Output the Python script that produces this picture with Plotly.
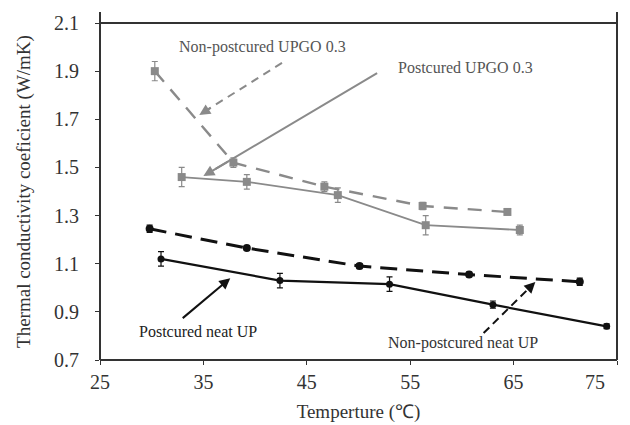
import plotly.graph_objects as go

# Data
np_upgo_x = [30.3, 37.9, 46.7, 56.2, 64.4]
np_upgo_y = [1.90, 1.52, 1.42, 1.34, 1.315]
np_upgo_err = [0.04, 0.02, 0.02, 0.015, 0.01]

pc_upgo_x = [32.9, 39.2, 48.0, 56.5, 65.6]
pc_upgo_y = [1.46, 1.44, 1.385, 1.26, 1.24]
pc_upgo_err = [0.04, 0.03, 0.03, 0.04, 0.02]

np_up_x = [29.8, 39.2, 50.1, 60.7, 71.4]
np_up_y = [1.245, 1.165, 1.09, 1.055, 1.025]
np_up_err = [0.015, 0.01, 0.01, 0.01, 0.015]

pc_up_x = [30.9, 42.4, 53.0, 63.0, 74.0]
pc_up_y = [1.12, 1.03, 1.015, 0.93, 0.84]
pc_up_err = [0.03, 0.03, 0.03, 0.015, 0.01]

x_ticks = [25, 35, 45, 55, 65, 75]
y_ticks = [0.7, 0.9, 1.1, 1.3, 1.5, 1.7, 1.9, 2.1]

GRAY = "#8a8a8a"
BLACK = "#111111"
FONT = "Liberation Serif"

fig = go.Figure()

def add_series(x, y, err, color, dash, symbol, size, width):
    fig.add_trace(go.Scatter(
        x=x, y=y, mode="lines+markers",
        line=dict(color=color, dash=dash, width=width),
        marker=dict(color=color, symbol=symbol, size=size),
        error_y=dict(type="data", array=err, color=color, thickness=1.2, width=3),
        showlegend=False, cliponaxis=False,
    ))

add_series(np_upgo_x, np_upgo_y, np_upgo_err, GRAY, "14px,10px", "square", 8, 2.4)
add_series(pc_upgo_x, pc_upgo_y, pc_upgo_err, GRAY, "solid", "square", 8, 1.8)
add_series(np_up_x, np_up_y, np_up_err, BLACK, "17px,9px", "circle", 8, 3)
add_series(pc_up_x, pc_up_y, pc_up_err, BLACK, "solid", "circle", 7, 2.2)

shapes = []
# frame lines
shapes.append(dict(type="line", xref="paper", yref="paper", x0=0, x1=0, y0=0, y1=1.033,
                   line=dict(color="#333", width=2)))
shapes.append(dict(type="line", xref="paper", yref="paper", x0=1, x1=1, y0=0, y1=1.033,
                   line=dict(color="#333", width=2)))
shapes.append(dict(type="line", xref="paper", yref="paper", x0=0, x1=1, y0=1, y1=1,
                   line=dict(color="#333", width=2)))
shapes.append(dict(type="line", xref="paper", yref="paper", x0=0, x1=1, y0=0, y1=0,
                   line=dict(color="#333", width=2)))

# arrow definitions: (x0, y0, x1, y1, color, dash)
arrows = [
    (42.6, 1.934, 34.6, 1.718, GRAY, "8px,6px"),
    (51.8, 1.892, 35.0, 1.464, GRAY, "solid"),
    (33.0, 0.874, 37.6, 1.040, BLACK, "solid"),
    (62.1, 0.812, 67.1, 1.024, BLACK, "8px,5px"),
]
annotations = []
for x0, y0, x1, y1, c, d in arrows:
    shapes.append(dict(type="line", xref="x", yref="y", x0=x0, y0=y0,
                       x1=x0 + (x1 - x0) * 0.93, y1=y0 + (y1 - y0) * 0.93,
                       line=dict(color=c, width=2, dash=d)))
    annotations.append(dict(x=x1, y=y1, ax=x0 + (x1 - x0) * 0.85, ay=y0 + (y1 - y0) * 0.85,
                            xref="x", yref="y", axref="x", ayref="y",
                            showarrow=True, arrowhead=2, arrowsize=1.1, arrowwidth=2,
                            arrowcolor=c, text=""))

labels = [
    ("Non-postcured UPGO 0.3", 40.7, 2.0, "#555"),
    ("Postcured UPGO 0.3", 60.3, 1.917, "#555"),
    ("Postcured neat UP", 34.5, 0.82, "#222"),
    ("Non-postcured neat UP", 60.1, 0.77, "#333"),
]
for t, x, y, c in labels:
    annotations.append(dict(x=x, y=y, xref="x", yref="y", text=t, showarrow=False,
                            font=dict(family=FONT, size=16, color=c)))

# last x tick label placed just inside the page (as in the reference)
annotations.append(dict(x=0.98, y=-0.065, xref="paper", yref="paper", text="75",
                        showarrow=False, yanchor="middle",
                        font=dict(family=FONT, size=20, color="#333")))

fig.update_layout(
    width=622, height=417,
    margin=dict(l=92, r=13, t=15, b=65, autoexpand=False),
    paper_bgcolor="white", plot_bgcolor="white",
    font=dict(family=FONT, color="#333"),
    shapes=shapes, annotations=annotations,
    xaxis=dict(range=[25, 75], tickvals=x_ticks, ticktext=[str(v) if v != 75 else "" for v in x_ticks],
               ticks="outside", ticklen=4, tickcolor="#333", showgrid=False, zeroline=False,
               automargin=False,
               tickfont=dict(family=FONT, size=20, color="#333"),
               title=dict(text="Temperture (℃)", font=dict(family=FONT, size=19, color="#333"), standoff=12)),
    yaxis=dict(range=[0.7, 2.1], tickvals=y_ticks, ticktext=[f"{v:.1f}" for v in y_ticks],
               ticks="outside", ticklen=4, tickcolor="#333", showgrid=False, zeroline=False,
               automargin=False, ticklabelstandoff=12,
               tickfont=dict(family=FONT, size=20, color="#333"),
               title=dict(text="Thermal conductivity coeficient (W/mK)", font=dict(family=FONT, size=19, color="#333"), standoff=18)),
)

fig.write_html("out.html")
